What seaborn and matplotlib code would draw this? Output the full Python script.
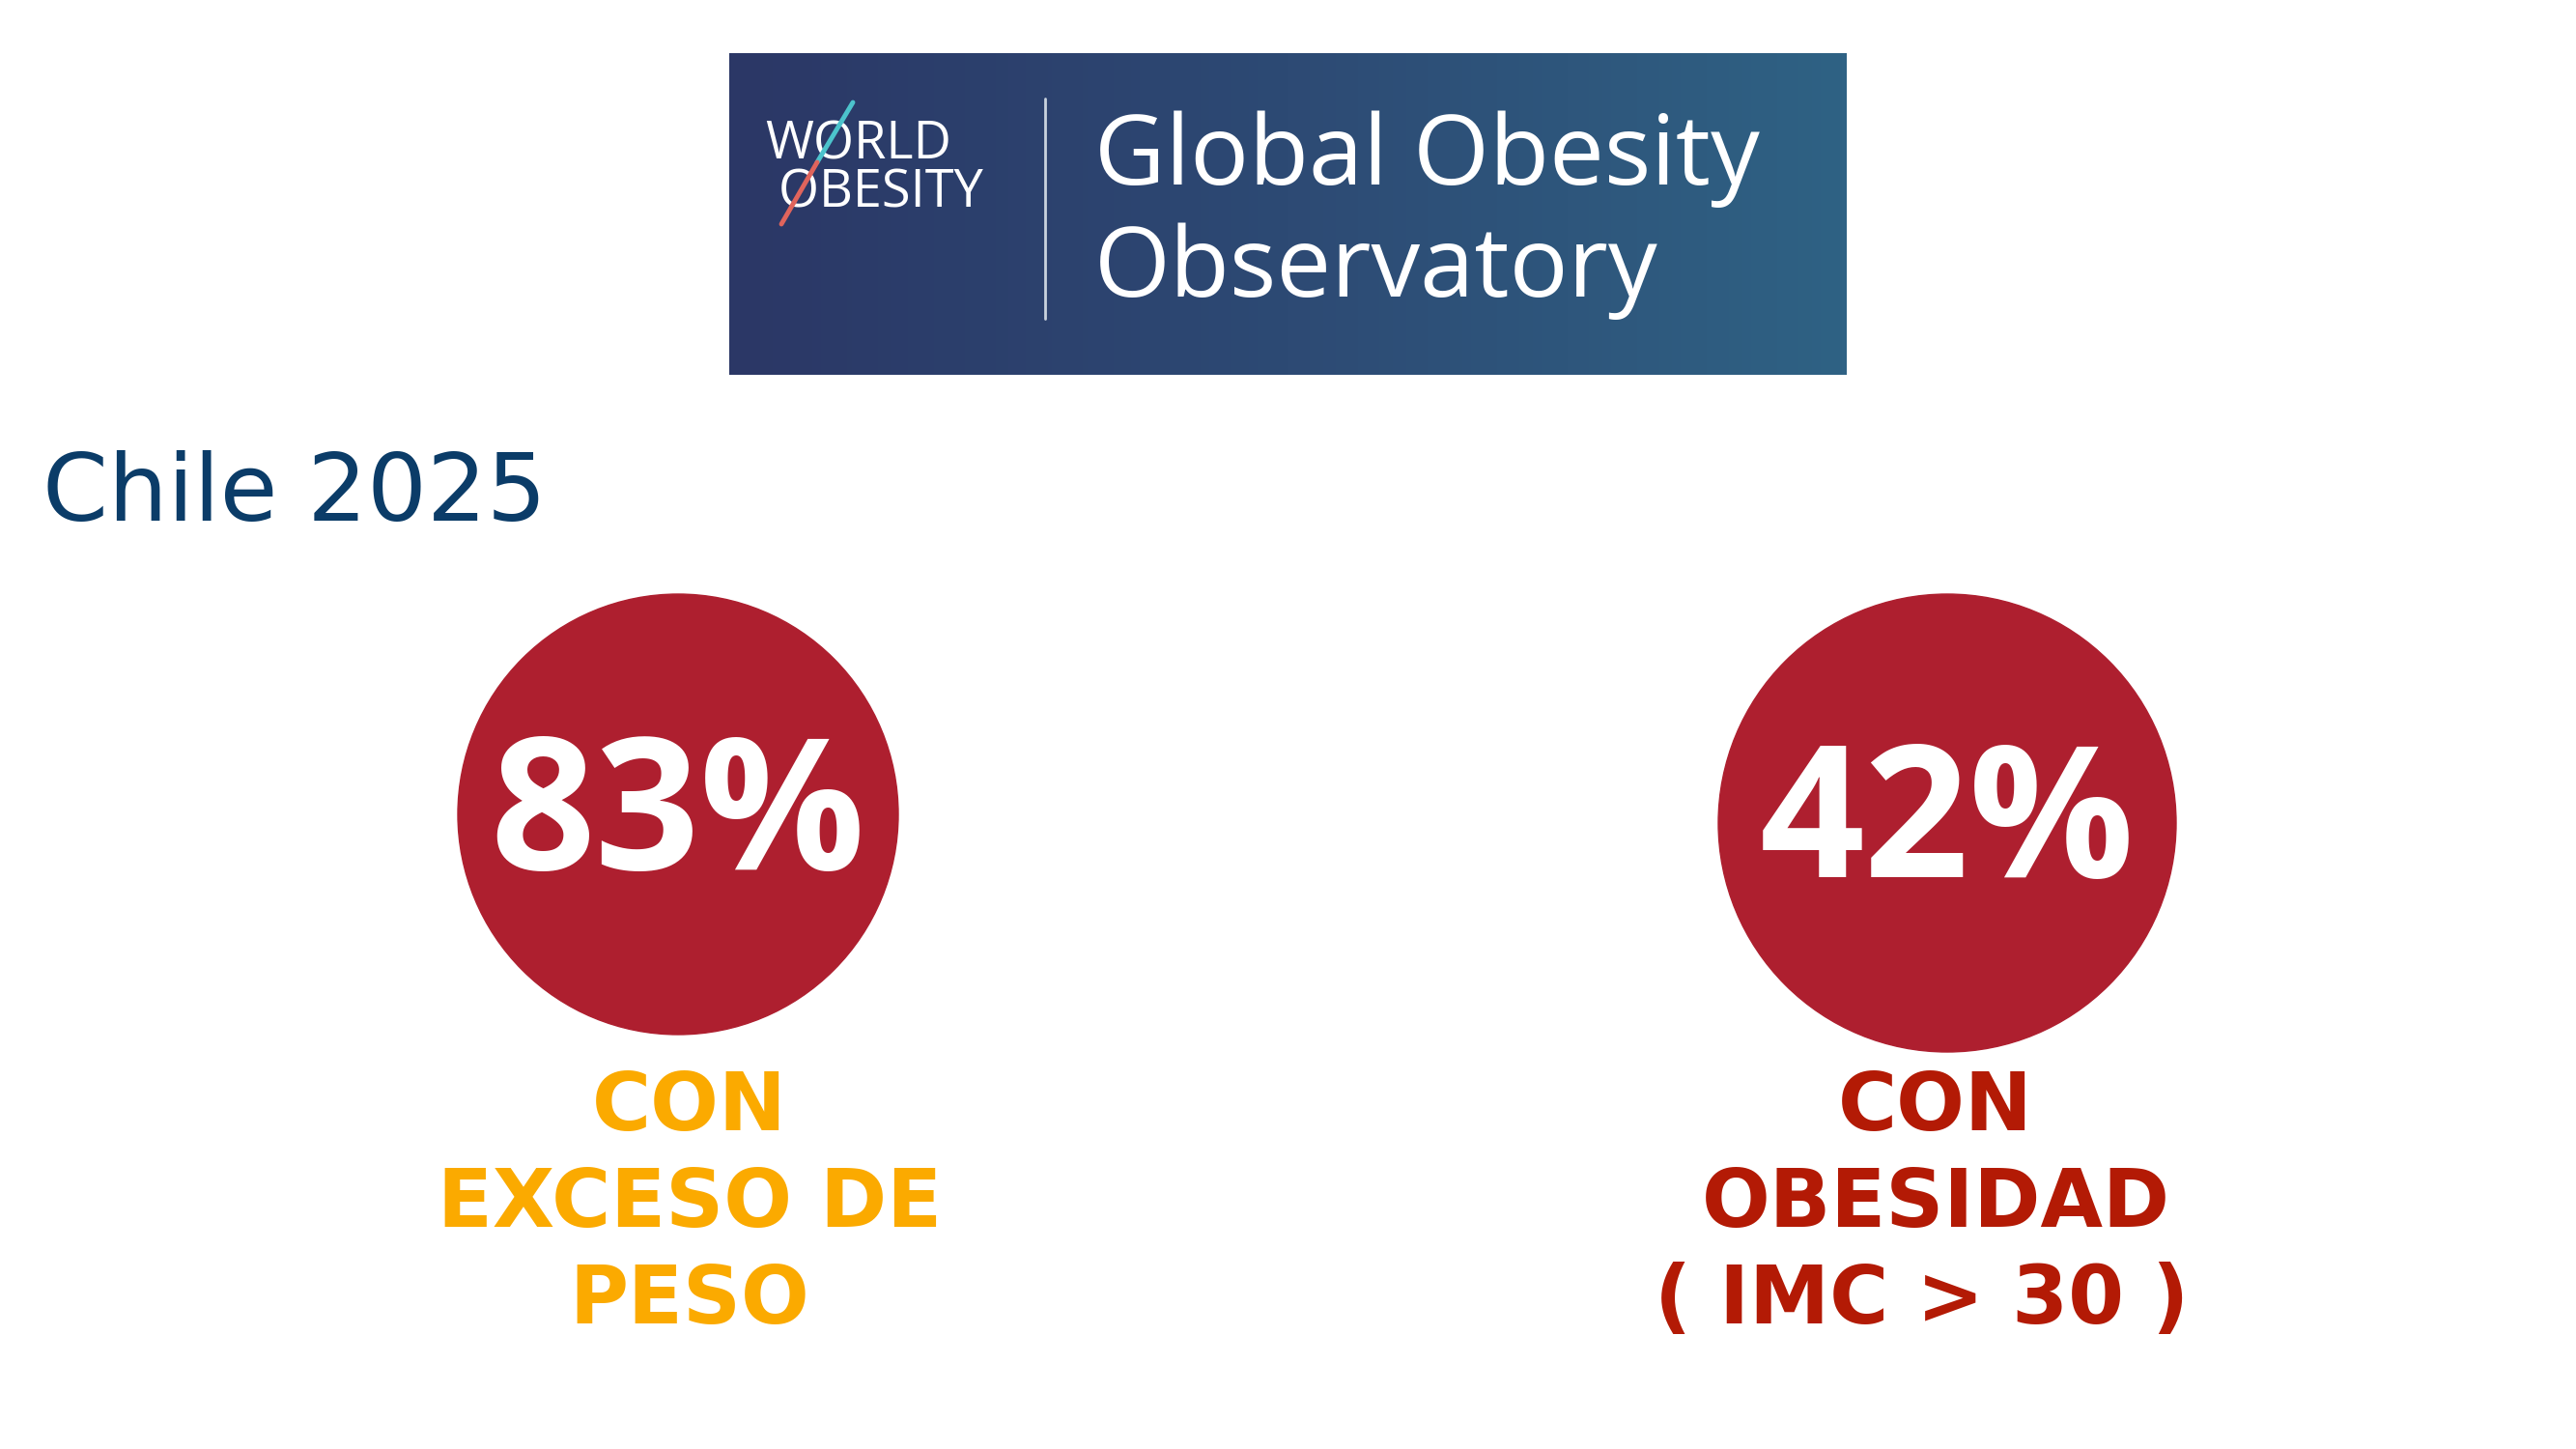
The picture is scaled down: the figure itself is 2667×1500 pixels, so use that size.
import numpy as np
import pandas as pd
import matplotlib.pyplot as plt
from matplotlib.patches import Circle
from matplotlib.colors import LinearSegmentedColormap
import seaborn as sns

sns.set_theme(style="white")
plt.rcParams['font.family'] = ['DejaVu Sans']

# datos
pais = "Chile 2025"
porcentajes = [83, 42]
etiquetas = [["CON", "EXCESO DE", "PESO"], ["CON", "OBESIDAD", "( IMC > 30 ) "]]
colores_etiqueta = ["#fbaa00", "#b31a05"]
banner_titulo = ["Global Obesity", "Observatory"]
banner_logo = ["WORLD", "OBESITY"]

df = pd.DataFrame({"pct": porcentajes,
                   "cx": [702, 2016], "cy": [843, 852], "r": [228, 237]})

fig = plt.figure(figsize=(26.67, 15), dpi=100)
ax = fig.add_axes([0, 0, 1, 1])
ax.set_xlim(0, 2667)
ax.set_ylim(1500, 0)
ax.axis("off")

# banner con degradado
cmap = LinearSegmentedColormap.from_list("ban", ["#2b3766", "#2d4a74", "#2f6284"])
grad = np.linspace(0, 1, 256).reshape(1, -1)
ax.imshow(grad, cmap=cmap, extent=[755, 1912, 388, 55], aspect="auto", zorder=1)
ax.plot([1082, 1082], [102, 330], color="#c9d2de", lw=2, zorder=2)

# logo
ax.text(792, 175, banner_logo[0] + "\n " + banner_logo[1], color="white", fontsize=39,
        family="Open Sans", va="center", ha="left", multialignment="left",
        linespacing=0.86, zorder=3)
ax.plot([883, 846], [106, 168], color="#4cc3cc", lw=3.5, zorder=4, solid_capstyle="round")
ax.plot([846, 809], [168, 232], color="#e0645c", lw=3.5, zorder=4, solid_capstyle="round")

ax.text(1133, 191, banner_titulo[0], color="white", fontsize=73, family="Open Sans",
        va="baseline", ha="left", zorder=3)
ax.text(1133, 307, banner_titulo[1], color="white", fontsize=73, family="Open Sans",
        va="baseline", ha="left", zorder=3)

ax.text(44, 539, pais, color="#0b3c68", fontsize=70, va="baseline", ha="left")

for i, row in df.iterrows():
    ax.add_patch(Circle((row.cx, row.cy), row.r, color="#ae1f2f", zorder=2))
    ax.text(row.cx, row.cy + 7, f"{row.pct}%", color="white", fontsize=137,
            family="Open Sans", weight="bold", ha="center", va="center", zorder=3)

label_x = [714, 2004]
for x, lines, col in zip(label_x, etiquetas, colores_etiqueta):
    for j, line in enumerate(lines):
        ax.text(x, 1138 + j * 100, line, color=col, fontsize=60, weight="bold",
                ha="center", va="center_baseline")

fig.savefig("out.png", dpi=100, facecolor="white")
